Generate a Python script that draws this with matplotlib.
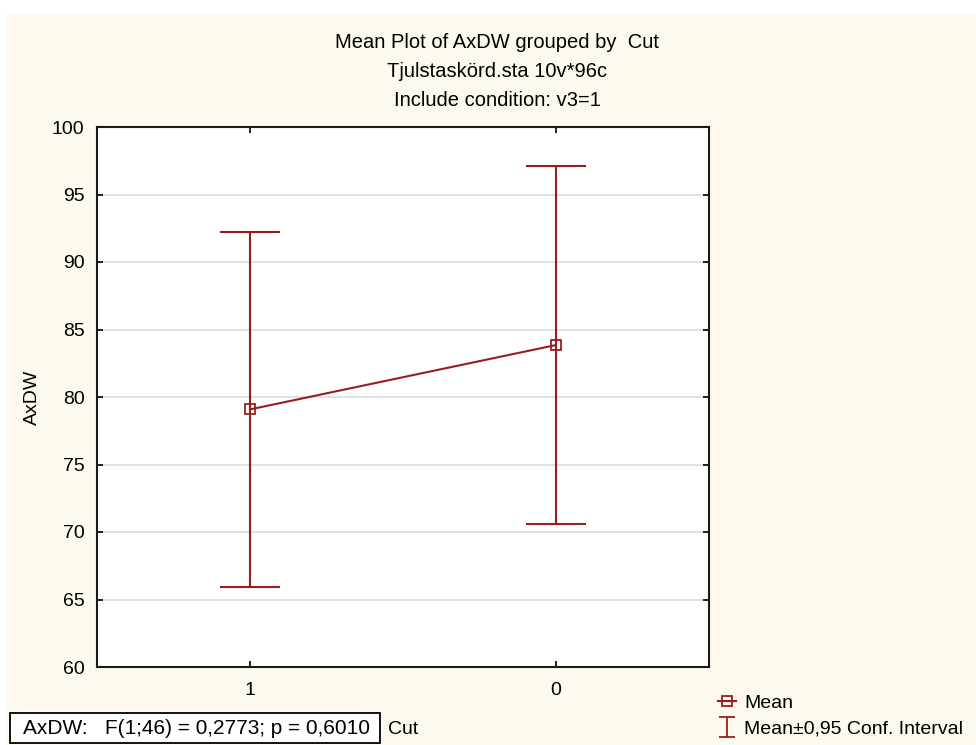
import matplotlib
matplotlib.use("Agg")
import matplotlib.pyplot as plt
from matplotlib.lines import Line2D
from matplotlib.patches import Rectangle
from matplotlib.path import Path

plt.rcParams['font.family'] = ['Liberation Sans', 'DejaVu Sans']

# data
groups = ['1', '0']
means = [79.08, 83.85]
ci_low = [65.94, 70.60]
ci_high = [92.22, 97.10]
yticks = [60, 65, 70, 75, 80, 85, 90, 95, 100]
title_lines = ['Mean Plot of AxDW grouped by  Cut',
               'Tjulstaskörd.sta 10v*96c',
               'Include condition: v3=1']
stat_text = 'AxDW:   F(1;46) = 0,2773; p = 0,6010'

W, H = 976, 745
red = '#981E1E'
cream = '#FEF9EE'
fs = 14

fig = plt.figure(figsize=(W / 100, H / 100), dpi=100)
fig.patch.set_facecolor('white')
# cream panel behind everything
fig.patches.append(Rectangle((7 / W, 0), 1, 1 - 14 / H, transform=fig.transFigure,
                             facecolor=cream, edgecolor='none', zorder=-10))

ax = fig.add_axes([97 / W, (H - 667) / H, (709 - 97) / W, (667 - 127) / H])
ax.set_facecolor('white')

x = list(range(len(groups)))
err_lo = [m - l for m, l in zip(means, ci_low)]
err_hi = [h - m for m, h in zip(means, ci_high)]
ax.errorbar(x, means, yerr=[err_lo, err_hi], fmt='none', ecolor=red,
            elinewidth=1.5, capsize=21.5, capthick=1.5, zorder=3)
ax.plot(x, means, color=red, lw=1.5, marker='s', markersize=7,
        markerfacecolor='none', markeredgewidth=1.3, zorder=4)

ax.set_xlim(-0.5, len(groups) - 0.5)
ax.set_ylim(60, 100)
ax.set_xticks(x)
ax.set_xticklabels(groups)
ax.set_yticks(yticks)
ax.tick_params(direction='in', length=4, width=1.2, labelsize=fs,
               top=True, right=True)
ax.tick_params(axis='y', pad=9)
ax.tick_params(axis='x', pad=11)
for s in ax.spines.values():
    s.set_linewidth(1.5)
    s.set_color('#1a1a1a')
ax.yaxis.grid(True, color='#dcdcdc', lw=1.2)
ax.set_axisbelow(True)

ax.set_ylabel('AxDW', fontsize=fs)
ax.yaxis.set_label_coords((32 - 97) / (709 - 97), 0.5)
ax.yaxis.label.set_va('center')

for i, line in enumerate(title_lines):
    fig.text(497 / W, 1 - (42 + 29.5 * i) / H, line, ha='center', va='center',
             fontsize=fs + 0.5)

# statistics box and x-axis name
fig.patches.append(Rectangle((10 / W, 2 / H), 370 / W, 30 / H, transform=fig.transFigure,
                             facecolor='white', edgecolor='black', lw=1.3, zorder=1))
fig.text(23 / W, 1 - 729 / H, stat_text, ha='left', va='center', fontsize=fs + 1)
fig.text(388 / W, 1 - 729 / H, 'Cut', ha='left', va='center', fontsize=fs)

# legend
ibar = Path([(-0.75, -1), (0.75, -1), (0, -1), (0, 1), (-0.75, 1), (0.75, 1)],
            [Path.MOVETO, Path.LINETO, Path.MOVETO, Path.LINETO, Path.MOVETO, Path.LINETO])
handles = [Line2D([], [], color=red, lw=1.5, marker='s', markersize=7,
                  markerfacecolor='none', markeredgewidth=1.3),
           Line2D([], [], color=red, lw=0, marker=ibar, markersize=15, markeredgewidth=1.3)]
fig.legend(handles, ['Mean', 'Mean±0,95 Conf. Interval'], loc='upper left',
           bbox_to_anchor=(718 / W, 1 - 694 / H), frameon=False, fontsize=fs,
           handlelength=0.9, handletextpad=0.45, labelspacing=0.45, borderpad=0,
           borderaxespad=0)

fig.savefig('out.png', dpi=100)
